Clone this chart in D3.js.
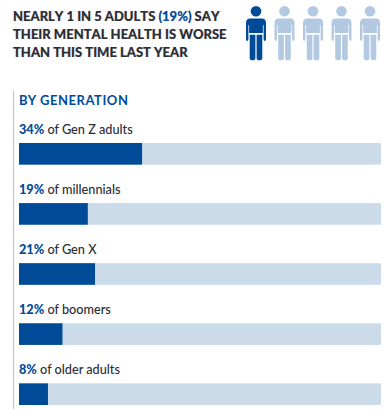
<!DOCTYPE html>
<html>
<head>
<meta charset="utf-8">
<script src="https://cdn.jsdelivr.net/npm/d3@7"></script>
<style>
  body { margin: 0; background: #fff; }
  text { font-family: Lato, sans-serif; }
  .headline { font-kerning: none; }
</style>
</head>
<body>
<div id="chart"></div>
<script>
/* DATA */
const generations = ["Gen Z adults", "millennials", "Gen X", "boomers", "older adults"];
const percents = [34, 19, 21, 12, 8];
const headline = [
  [["NEARLY 1 IN 5 ADULTS ", 0], ["(19%)", 1], [" SAY", 0]],
  [["THEIR MENTAL HEALTH IS WORSE", 0]],
  [["THAN THIS TIME LAST YEAR", 0]]
];
const people = [1, 0, 0, 0, 0];
const subhead = "BY GENERATION";

/* CONSTANTS */
const width = 388, height = 415;
const dark = "#2b2d33", blue = "#004b98", pale = "#ccdbea", paleIcon = "#b3c9e1";

const svg = d3.select("#chart").append("svg")
  .attr("width", width)
  .attr("height", height)
  .style("display", "block");

// headline
const lineY = d3.scalePoint().domain([0, 1, 2]).range([20.8, 56.8]);
svg.selectAll("text.headline")
  .data(headline)
  .join("text")
  .attr("class", "headline")
  .attr("x", 13)
  .attr("y", (d, i) => lineY(i))
  .attr("font-size", 13)
  .attr("font-weight", 900)
  .attr("fill", dark)
  .selectAll("tspan")
  .data(d => d)
  .join("tspan")
  .attr("fill", d => d[1] ? blue : dark)
  .attr("stroke", d => d[1] ? blue : dark)
  .attr("stroke-width", 0.2)
  .style("white-space", "pre")
  .text(d => d[0]);

// people icons
const iconX = d3.scalePoint().domain(d3.range(people.length)).range([256, 370]);
const icon = svg.selectAll("g.person")
  .data(people)
  .join("g")
  .attr("class", "person")
  .attr("transform", (d, i) => `translate(${iconX(i)}, 0)`)
  .attr("fill", d => d ? blue : paleIcon);

icon.append("circle").attr("cy", 11.2).attr("r", 5.3);
// shoulders, arms and chest
icon.append("path").attr("d", "M-10 23 Q-10 18.5 -6 18.5 L6 18.5 Q10 18.5 10 23 L10 39 Q10 41 8.8 41 Q7.6 41 7.6 39 L7.6 25 L6.9 25 L6.9 33 L-6.9 33 L-6.9 25 L-7.6 25 L-7.6 39 Q-7.6 41 -8.8 41 Q-10 41 -10 39 Z");
// legs
icon.append("path").attr("d", "M-6.3 34.8 L-0.6 34.8 L-0.6 58 Q-0.6 60.3 -3.4 60.3 Q-6.3 60.3 -6.3 58 Z");
icon.append("path").attr("d", "M0.6 34.8 L6.3 34.8 L6.3 58 Q6.3 60.3 3.4 60.3 Q0.6 60.3 0.6 58 Z");

// left rule
svg.append("line")
  .attr("x1", 13.5).attr("x2", 13.5)
  .attr("y1", 91).attr("y2", 409)
  .attr("stroke", "#c4c6c9")
  .attr("stroke-width", 1.2);

svg.append("text")
  .attr("x", 19)
  .attr("y", 104.7)
  .attr("font-size", 13)
  .attr("font-weight", 700)
  .attr("letter-spacing", 0.55)
  .attr("fill", blue)
  .text(subhead);

// + SCALES
const xScale = d3.scaleLinear().domain([0, 100]).range([19, 381]);
const yScale = d3.scaleBand()
  .domain(generations)
  .range([143, 405])
  .paddingInner(0.64)
  .paddingOuter(0);
const rows = generations.map((g, i) => ({ name: g, value: percents[i] }));

// + BARS
svg.selectAll("rect.track")
  .data(rows)
  .join("rect")
  .attr("class", "track")
  .attr("x", xScale(0))
  .attr("y", d => yScale(d.name))
  .attr("width", xScale(100) - xScale(0))
  .attr("height", yScale.bandwidth())
  .attr("fill", pale);

svg.selectAll("rect.value")
  .data(rows)
  .join("rect")
  .attr("class", "value")
  .attr("x", xScale(0))
  .attr("y", d => yScale(d.name))
  .attr("width", d => xScale(d.value) - xScale(0))
  .attr("height", yScale.bandwidth())
  .attr("fill", blue);

// + LABELS
const labels = svg.selectAll("text.label")
  .data(rows)
  .join("text")
  .attr("class", "label")
  .attr("x", 19)
  .attr("y", d => yScale(d.name) - 9.5)
  .attr("font-size", 12.7)
  .attr("font-weight", 500)
  .attr("fill", dark);

labels.append("tspan")
  .attr("fill", blue)
  .attr("font-weight", 900)
  .text(d => `${d.value}%`);
labels.append("tspan")
  .text(d => ` of ${d.name}`);
</script>
</body>
</html>
